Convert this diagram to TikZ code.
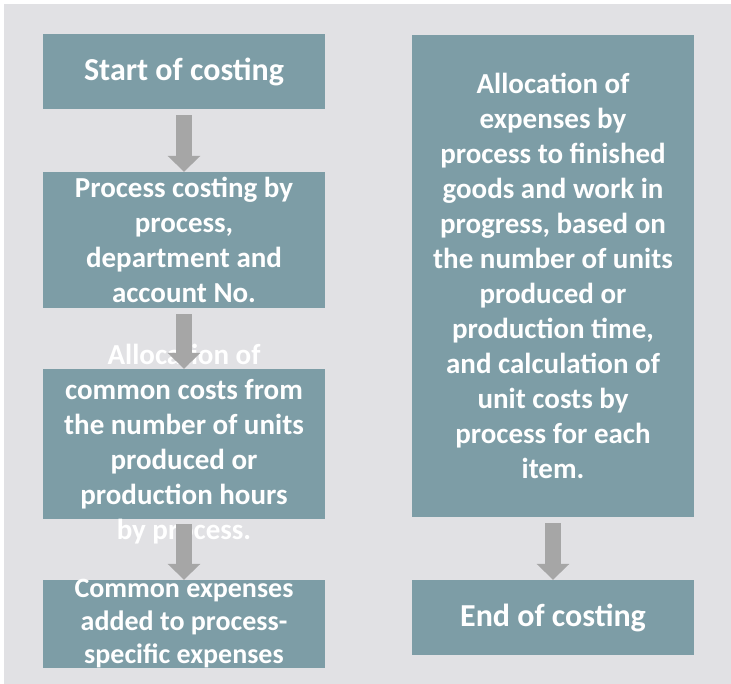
\documentclass[tikz,border=0pt]{standalone}
\usepackage{fontspec}
\setmainfont{Carlito}
\usetikzlibrary{arrows.meta}

\definecolor{boxfill}{RGB}{125,157,166}
\definecolor{arrowgray}{RGB}{166,166,166}
\definecolor{marble}{RGB}{225,225,228}

\begin{document}
\begin{tikzpicture}[x=1pt,y=-1pt,
  box/.style={fill=boxfill,inner sep=0pt,minimum width=282pt},
  boxtext/.style={text=white,align=center,inner sep=0pt,
    font=\bfseries\fontsize{29}{35}\selectfont},
  bigtext/.style={boxtext,font=\bfseries\fontsize{32}{38}\selectfont},
  flow/.style={draw=arrowgray,line width=16pt,
    -{Triangle[width=32pt,length=16pt]}}]

\useasboundingbox (0,0) rectangle (731,684);
\fill [marble] (4,4) rectangle (731,684);

% left column
\node (A) at (184,71.5) [box,minimum height=75pt] {};
\node (B) at (184,240) [box,minimum height=136pt] {};
\node (C) at (184,444) [box,minimum height=150pt] {};
\node (D) at (184,624) [box,minimum height=88pt] {};
\node (At) at (A) [bigtext] {Start of costing};
\node (Bt) at (B) [boxtext] {Process costing by\\process,\\department and\\account No.};
\node (Ct) at (C) [boxtext] {Allocation of\\common costs from\\the number of units\\produced or\\production hours\\by process.};
\node (Dt) at (D) [boxtext,font=\bfseries\fontsize{28}{33}\selectfont] {Common expenses\\added to process-\\specific expenses};

% right column
\node (E) at (553,276) [box,minimum height=482pt] {};
\node (F) at (553,617.5) [box,minimum height=75pt] {};
\node (Et) at (E) [boxtext] {Allocation of\\expenses by\\process to finished\\goods and work in\\progress, based on\\the number of units\\produced or\\production time,\\and calculation of\\unit costs by\\process for each\\item.};
\node (Ft) at (F) [bigtext] {End of costing};

\draw [flow] ([yshift=-6pt]A.south) -- (B.north);
\draw [flow] ([yshift=-6pt]B.south) -- (C.north);
\draw [flow] ([yshift=-5pt]C.south) -- (D.north);
\draw [flow] ([yshift=-6pt]E.south) -- (F.north);

\end{tikzpicture}
\end{document}
